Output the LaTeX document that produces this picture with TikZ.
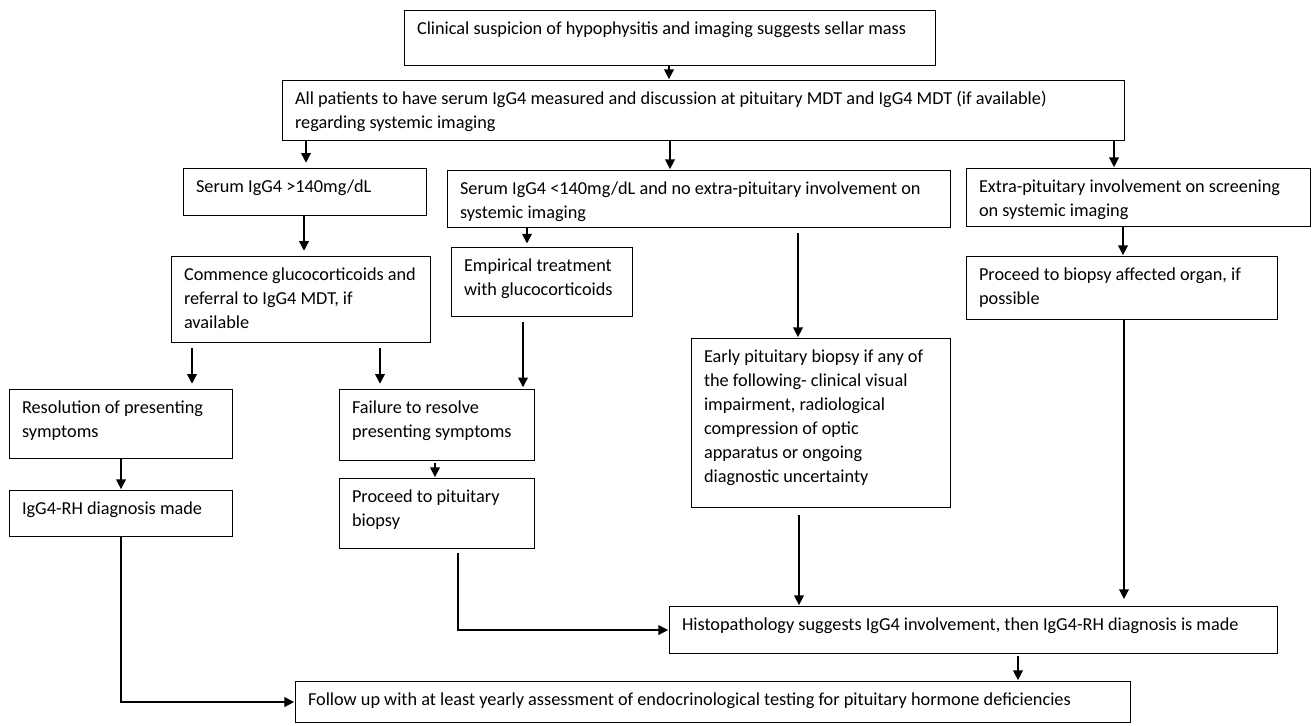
\documentclass[tikz,border=0pt]{standalone}
\usepackage{fontspec}
\setmainfont{Carlito}
\usetikzlibrary{arrows.meta}

\begin{document}
\begin{tikzpicture}[x=0.02cm,y=-0.02cm,>={Triangle[length=5.5pt,width=5.5pt]},shorten >=0.5pt,line width=0.8pt,
    box node/.style={draw,line width=0.6pt,anchor=north west,inner xsep=0.25cm,inner ysep=0.06cm,text height=0.41cm,execute at begin node={\raggedright\spaceskip=.226em plus .11em minus .07em\relax},font=\fontsize{10.4pt}{13.7pt}\selectfont}]
    \useasboundingbox (0,0) rectangle (1312,725);

    \node[box node,text width=10.12cm,text depth=0.57cm] (suspicion) at (404,10) {Clinical suspicion of hypophysitis and imaging suggests sellar mass};
    \node[box node,text width=16.34cm,text depth=0.67cm] (patients) at (282,80) {All patients to have serum IgG4 measured and discussion at pituitary MDT and IgG4 MDT (if available)\\regarding systemic imaging};

    \node[box node,text width=4.36cm,text depth=0.41cm] (high) at (183,168) {Serum IgG4 >140mg/dL};
    \node[box node,text width=9.56cm,text depth=0.61cm] (low) at (447,170) {Serum IgG4 <140mg/dL and no extra-pituitary involvement on\\systemic imaging};
    \node[box node,text width=6.38cm,text depth=0.63cm] (extra) at (966,168) {Extra-pituitary involvement on screening\\on systemic imaging};

    \node[box node,text width=4.68cm,text depth=1.19cm] (steroids) at (171,256) {Commence glucocorticoids and\\referral to IgG4 MDT, if\\available};
    \node[box node,text width=3.12cm,text depth=0.85cm] (empirical) at (451,247) {Empirical treatment\\with glucocorticoids};
    \node[box node,text width=5.72cm,text depth=0.73cm] (organ) at (966,256) {Proceed to biopsy affected organ, if\\possible};
    \node[box node,text width=4.68cm,text depth=2.85cm] (early) at (691,338) {Early pituitary biopsy if any of\\the following- clinical visual\\impairment, radiological\\compression of optic\\apparatus or ongoing\\diagnostic uncertainty};

    \node[box node,text width=3.96cm,text depth=0.85cm] (resolution) at (9,389) {Resolution of presenting\\symptoms};
    \node[box node,text width=3.4cm,text depth=0.89cm] (failure) at (339,389) {Failure to resolve\\presenting symptoms};
    \node[box node,text width=3.96cm,text depth=0.39cm] (diagnosis) at (9,490) {IgG4-RH diagnosis made};
    \node[box node,text width=3.4cm,text depth=0.87cm] (biopsy) at (339,478) {Proceed to pituitary\\biopsy};

    \node[box node,text width=11.66cm,text depth=0.41cm] (histo) at (669,606) {Histopathology suggests IgG4 involvement, then IgG4-RH diagnosis is made};
    \node[box node,text width=16.2cm,text depth=0.29cm] (followup) at (295,681) {Follow up with at least yearly assessment of endocrinological testing for pituitary hormone deficiencies};

    % straight arrows
    \path[->]
        (suspicion.south -| 669,0) edge (patients.north -| 669,0)
        (patients.south -| 306,0) edge[shorten >=3pt] (high.north -| 306,0)
        (patients.south -| 670,0) edge (low.north -| 670,0)
        (patients.south -| 1114,0) edge (extra.north -| 1114,0)
        (high.south -| 304,0) edge[shorten >=3pt] (steroids.north -| 304,0)
        (low.south -| 527,0) edge[shorten >=2pt] (empirical.north -| 527,0)
        (low.south -| 798,0) edge[shorten <=3pt] (early.north -| 798,0)
        (extra.south -| 1123,0) edge (organ.north -| 1123,0)
        (steroids.south -| 192,0) edge[shorten <=3pt,shorten >=3pt] (resolution.north -| 192,0)
        (steroids.south -| 380,0) edge[shorten <=3pt,shorten >=3pt] (failure.north -| 380,0)
        (empirical.south -| 523,0) edge[shorten <=3pt,shorten >=1pt] (failure.north -| 523,0)
        (resolution.south -| 121,0) edge (diagnosis.north -| 121,0)
        (failure.south -| 435,0) edge[shorten <=1pt] (biopsy.north -| 435,0)
        (early.south -| 799,0) edge[shorten <=4pt] (histo.north -| 799,0)
        (organ.south -| 1124,0) edge[shorten >=4pt] (histo.north -| 1124,0)
        (histo.south -| 1018,0) edge[shorten <=1pt] (followup.north -| 1018,0)
    ;

    % elbow arrows
    \draw[->,shorten <=2pt] (biopsy.south -| 458,0) |- (histo.west);
    \draw[->] (diagnosis.south -| 121,0) |- (followup.west);
\end{tikzpicture}
\end{document}
